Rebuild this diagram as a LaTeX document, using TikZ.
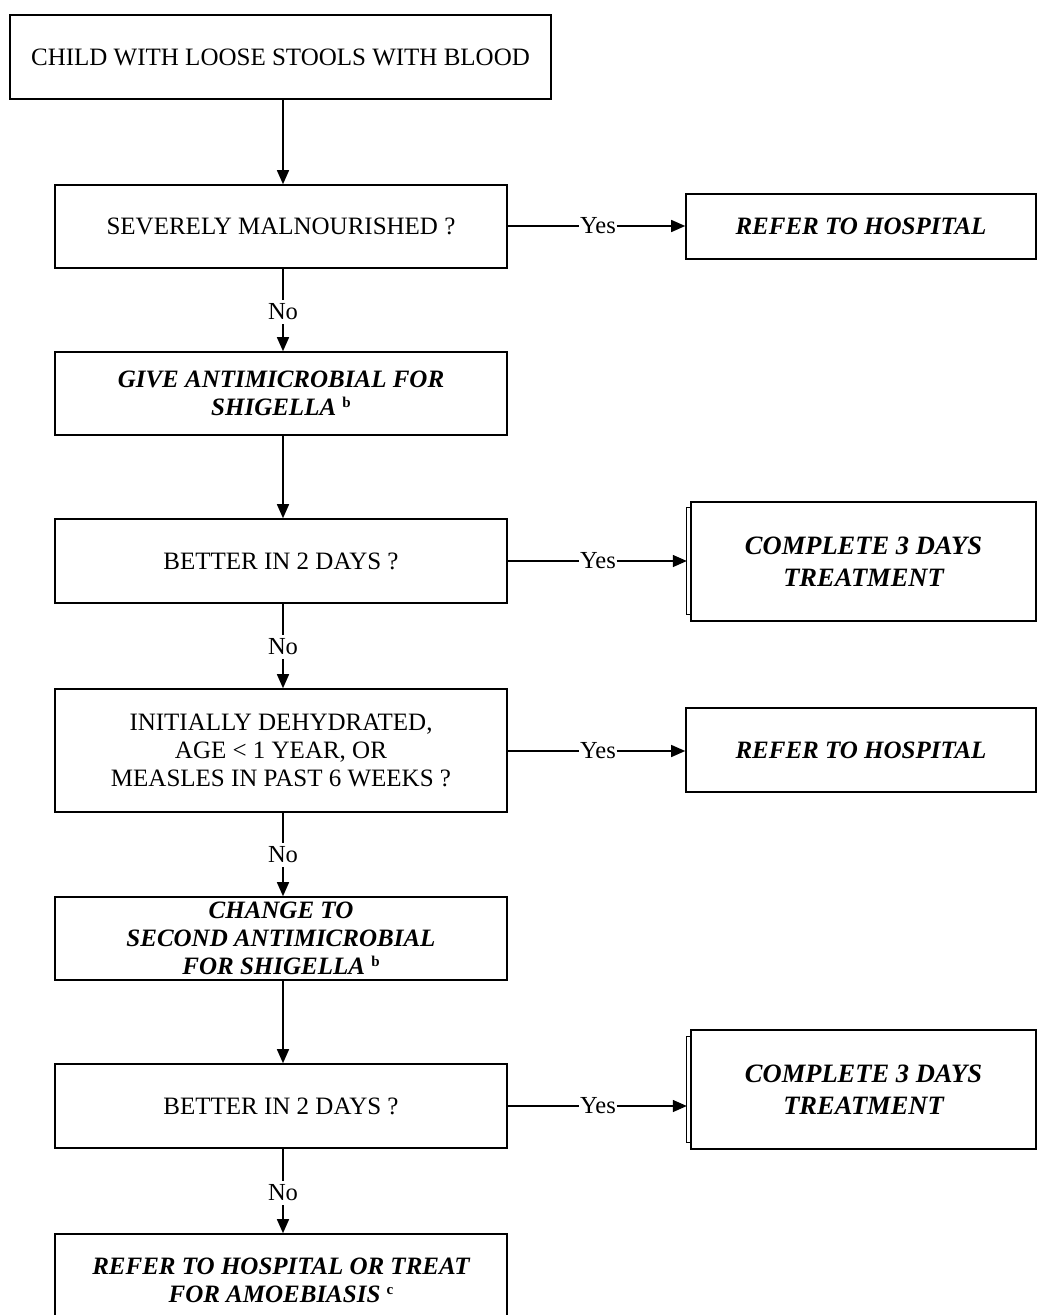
\documentclass[tikz,border=0pt]{standalone}
\usepackage{fontspec}
\setmainfont{Liberation Serif}
\usetikzlibrary{arrows.meta}
\newcommand{\supmark}[1]{\raisebox{8pt}{\fontsize{15}{15}\selectfont\bfseries\upshape #1}}
\begin{document}
\begin{tikzpicture}[x=1pt,y=-1pt,
  box/.style={draw, line width=1.6pt, inner sep=0pt, align=center, font=\fontsize{25}{28}\selectfont},
  ital/.style={font=\fontsize{25}{28}\selectfont\bfseries\itshape},
  compl/.style={font=\fontsize{26.5}{32}\selectfont\bfseries\itshape, line width=1.3pt},
  lab/.style={inner xsep=0.5pt, inner ysep=4pt, font=\fontsize{24.5}{26}\selectfont},
  conn/.style={line width=1.4pt},
  arr/.style={conn, -{Triangle[length=14pt,width=12pt]}},
  bracket/.style={inner sep=0pt, minimum width=4pt, minimum height=106pt}
]
\useasboundingbox[fill=white] (0,0) rectangle (1038,1315);

% left column
\node[box, minimum width=541pt, minimum height=84pt] (b1) at (280.5,57) {CHILD WITH LOOSE STOOLS WITH BLOOD};
\node[box, minimum width=452pt, minimum height=83pt] (b2) at (281,226.5) {SEVERELY MALNOURISHED ?};
\node[box, ital, minimum width=452pt, minimum height=83pt] (b3) at (281,393.5) {GIVE ANTIMICROBIAL FOR\\SHIGELLA \supmark{b}};
\node[box, minimum width=452pt, minimum height=84pt] (b4) at (281,561) {BETTER IN 2 DAYS ?};
\node[box, minimum width=452pt, minimum height=123pt] (b5) at (281,750.5) {INITIALLY DEHYDRATED,\\AGE {<} 1 YEAR, OR\\MEASLES IN PAST 6 WEEKS ?};
\node[box, ital, minimum width=452pt, minimum height=83pt] (b6) at (281,938.5) {CHANGE TO\\SECOND ANTIMICROBIAL\\FOR SHIGELLA \supmark{b}};
\node[box, minimum width=452pt, minimum height=84pt] (b7) at (281,1106) {BETTER IN 2 DAYS ?};
\node[box, ital, minimum width=452pt, minimum height=92pt] (b8) at (281,1280) {REFER TO HOSPITAL OR TREAT\\FOR AMOEBIASIS \supmark{c}};

% right column
\node[box, ital, minimum width=350pt, minimum height=65pt] (r1) at (861,226.5) {REFER TO HOSPITAL};
\node[box, compl, minimum width=345pt, minimum height=119pt] (c1) at (863.5,561.5) {COMPLETE 3 DAYS\\TREATMENT};
\node[bracket] (k1) at (689,561) {};
\node[box, ital, minimum width=350pt, minimum height=84pt] (r2) at (861,750) {REFER TO HOSPITAL};
\node[box, compl, minimum width=345pt, minimum height=119pt] (c2) at (863.5,1089.5) {COMPLETE 3 DAYS\\TREATMENT};
\node[bracket] (k2) at (689,1089.5) {};
\foreach \k in {k1,k2}{
  \draw[line width=1pt] (\k.north east) -- (\k.north west) -- (\k.south west) -- (\k.south east);
}

% labels
\node[lab] (n1) at (283,312) {No};
\node[lab] (n2) at (283,647) {No};
\node[lab] (n3) at (283,855) {No};
\node[lab] (n4) at (283,1193) {No};
\node[lab] (y1) at (598,226) {Yes};
\node[lab] (y2) at (598,561) {Yes};
\node[lab] (y3) at (598,751) {Yes};
\node[lab] (y4) at (598,1106) {Yes};

% vertical connectors
\draw[arr] (b1.south -| n1) -- (b2.north -| n1);
\draw[conn] (b2.south -| n1) -- (n1.north);
\draw[arr] (n1.south) -- (b3.north -| n1);
\draw[arr] (b3.south -| n1) -- (b4.north -| n1);
\draw[conn] (b4.south -| n2) -- (n2.north);
\draw[arr] (n2.south) -- (b5.north -| n2);
\draw[conn] (b5.south -| n3) -- (n3.north);
\draw[arr] (n3.south) -- (b6.north -| n3);
\draw[arr] (b6.south -| n3) -- (b7.north -| n3);
\draw[conn] (b7.south -| n4) -- (n4.north);
\draw[arr] (n4.south) -- (b8.north -| n4);

% horizontal connectors
\draw[conn] (b2.east |- y1) -- (y1.west);
\draw[arr] (y1.east) -- (r1.west |- y1);
\draw[conn] (b4.east |- y2) -- (y2.west);
\draw[arr] (y2.east) -- (k1.west |- y2);
\draw[conn] (b5.east |- y3) -- (y3.west);
\draw[arr] (y3.east) -- (r2.west |- y3);
\draw[conn] (b7.east |- y4) -- (y4.west);
\draw[arr] (y4.east) -- (k2.west |- y4);
\end{tikzpicture}
\end{document}
